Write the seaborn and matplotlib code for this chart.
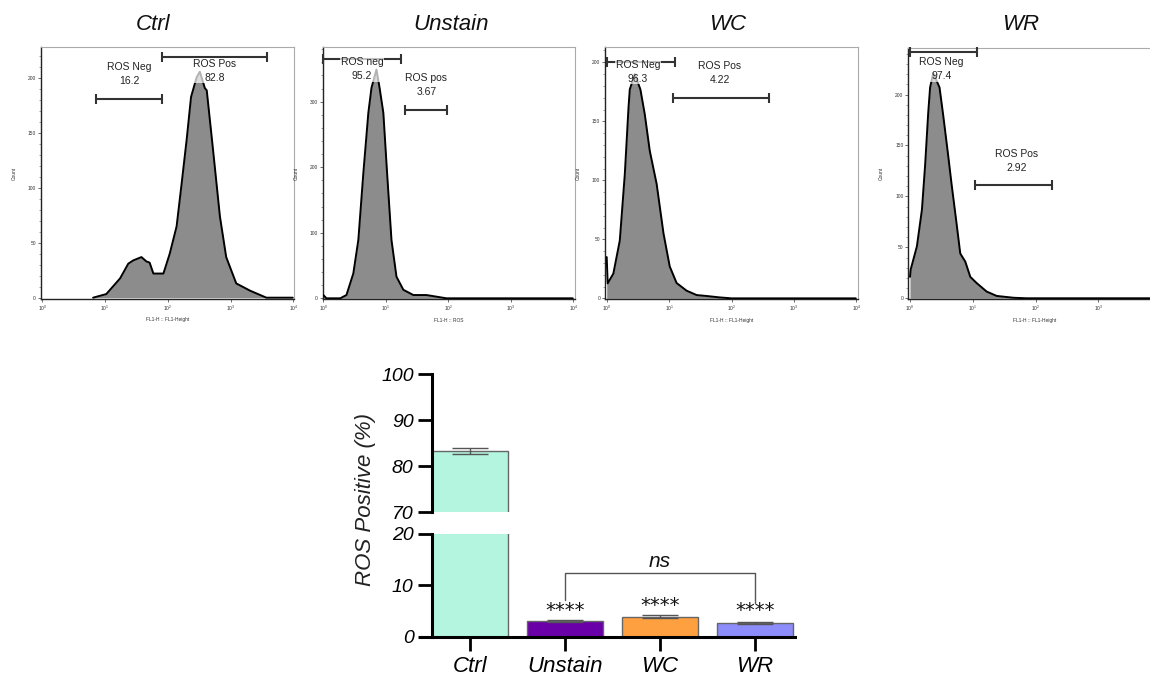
import numpy as np
import pandas as pd
import matplotlib
matplotlib.use("Agg")
import matplotlib.pyplot as plt
import seaborn as sns
from matplotlib.ticker import FixedLocator, NullFormatter, AutoMinorLocator

sns.set_theme(style="white")
plt.rcParams['font.family'] = ['Liberation Sans', 'DejaVu Sans']
plt.rcParams['mathtext.fontset'] = 'custom'
plt.rcParams['mathtext.rm'] = 'Liberation Sans'

# ---------------- Flow histogram data (log10 intensity, count) ----------------
titles = ["Ctrl", "Unstain", "WC", "WR"]
xlabels = ["FL1-H :: FL1-Height", "FL1-H :: ROS", "FL1-H :: FL1-Height", "FL1-H :: FL1-Height"]

ctrl_dec = [0.81, 1.02, 1.24, 1.37, 1.45, 1.58, 1.66, 1.71, 1.77, 1.93, 2.03, 2.14, 2.22,
            2.30, 2.37, 2.46, 2.51, 2.59, 2.62, 2.72, 2.83, 2.93, 3.09, 3.31, 3.57, 3.99]
ctrl_cnt = [0, 3.3, 17.6, 31, 34, 37, 33, 32, 22, 22, 40, 65, 104,
            144, 183, 201, 206, 191, 189, 135, 74, 37, 13, 6.4, 0, 0]

unst_dec = [0.0, 0.05, 0.27, 0.37, 0.48, 0.56, 0.64, 0.72, 0.77, 0.85, 0.90, 0.96, 1.02,
            1.09, 1.17, 1.28, 1.44, 1.65, 1.81, 1.97, 3.99]
unst_cnt = [5, 0, 0, 5, 38, 89, 191, 283, 321, 349, 321, 283, 191,
            89, 33, 13, 5, 5, 2.5, 0, 0]

wc_dec = [0.0, 0.016, 0.107, 0.21, 0.29, 0.35, 0.37, 0.45, 0.54, 0.61, 0.69, 0.80, 0.91,
          1.01, 1.12, 1.28, 1.44, 1.60, 1.81, 2.0, 3.99]
wc_cnt = [35, 12.7, 21, 49, 105, 162, 177, 190, 177, 156, 125, 97, 55,
          27, 13, 6.5, 2.8, 2, 0.8, 0, 0]

wr_dec = [0.0, 0.01, 0.11, 0.19, 0.24, 0.29, 0.32, 0.37, 0.47, 0.53, 0.61, 0.66, 0.74,
          0.80, 0.88, 0.96, 1.06, 1.22, 1.38, 1.65, 1.86, 3.99]
wr_cnt = [21, 28, 51, 87, 130, 182, 207, 221, 207, 179, 139, 113, 74,
          44, 36, 21, 15, 6.6, 2.3, 0.5, 0, 0]

hist_dec = [ctrl_dec, unst_dec, wc_dec, wr_dec]
hist_cnt = [ctrl_cnt, unst_cnt, wc_cnt, wr_cnt]

# gates: (start decade, end decade, height)
neg_gates = [(0.85, 1.90, 181), (0.0, 1.25, 365), (0.0, 1.09, 200), (0.0, 1.06, 242)]
pos_gates = [(1.91, 3.58, 219), (1.31, 1.98, 288), (1.06, 2.60, 170), (1.04, 2.26, 111)]
neg_names = ["ROS Neg", "ROS neg", "ROS Neg", "ROS Neg"]
pos_names = ["ROS Pos", "ROS pos", "ROS Pos", "ROS Pos"]
neg_pct = ["16.2", "95.2", "96.3", "97.4"]
pos_pct = ["82.8", "3.67", "4.22", "2.92"]
neg_lab_pos = [(1.38, 204), (0.62, 350), (0.50, 192), (0.50, 225)]
pos_lab_pos = [(2.75, 207), (1.65, 326), (1.81, 191), (1.70, 135)]

y_major = [[0, 50, 100, 150, 200], [0, 100, 200, 300], [0, 50, 100, 150, 200], [0, 50, 100, 150, 200]]
x_decades = [[0, 1, 2, 3, 4], [0, 1, 2, 3, 4], [0, 1, 2, 3, 4], [0, 1, 2, 3]]

# ---------------- Bar chart data ----------------
groups = ["Ctrl", "Unstain", "WC", "WR"]
ros_pos = [83.3, 3.04, 3.9, 2.67]
ros_sem = [0.65, 0.15, 0.25, 0.2]
bar_colors = ["#B3F5DE", "#6A00A8", "#FFA040", "#8C8CFA"]
star_y = [5.1, 6.0, 5.1]
ns_bracket = (1, 3, 12.35, 7.1, 6.6)

W, H = 1150, 677
fig = plt.figure(figsize=(W / 100, H / 100), dpi=100)

def frac(l, t, r, b):
    return [l / W, 1 - b / H, (r - l) / W, (b - t) / H]

# pixel boxes & limits for histograms
hist_boxes = [(40.7, 47, 294, 299), (322.7, 47.3, 575.3, 299.3), (605, 47.3, 858.3, 299.3), (908.3, 47.7, 1161.3, 299.3)]
xlims = [(-0.025, 4.01), (-0.01, 4.03), (-0.027, 4.03), (-0.027, 4.0)]
ylims = [(-1.2, 228.5), (-1.5, 383), (-0.8, 212.7), (-1.0, 246)]
title_x = [153, 451, 728, 1021]

for i in range(4):
    ax = fig.add_axes(frac(*hist_boxes[i]))
    ax.set_xscale('log')
    df = pd.DataFrame({"FL1": 10 ** np.array(hist_dec[i], dtype=float), "Count": hist_cnt[i]})
    ax.fill_between(df["FL1"], 0, df["Count"], color="#8c8c8c", lw=0, zorder=2)
    sns.lineplot(data=df, x="FL1", y="Count", ax=ax, color="black", lw=1.4, zorder=3)
    ax.set_xlim(10 ** xlims[i][0], 10 ** xlims[i][1])
    ax.set_ylim(*ylims[i])
    ax.xaxis.set_major_locator(FixedLocator([10.0 ** d for d in x_decades[i]]))
    ax.set_xticklabels([rf"$10^{d}$" for d in x_decades[i]])
    ax.xaxis.set_minor_formatter(NullFormatter())
    ax.xaxis.set_minor_locator(FixedLocator([]))
    ax.yaxis.set_major_locator(FixedLocator(y_major[i]))
    ax.yaxis.set_minor_locator(AutoMinorLocator(5))
    ax.tick_params(axis='both', which='major', labelsize=3.5, length=2, width=0.5, colors='#333',
                   pad=1.5, bottom=True, left=True)
    ax.tick_params(axis='y', which='minor', length=1.2, width=0.4, colors='#555', left=True)
    ax.set_xlabel(xlabels[i], fontsize=3.5, color='#333', labelpad=3)
    ax.set_ylabel("Count", fontsize=3.5, color='#333', labelpad=8)
    for s in ['left', 'bottom']:
        ax.spines[s].set_color('#222')
        ax.spines[s].set_linewidth(1.0)
    for s in ['top', 'right']:
        ax.spines[s].set_color('#aaaaaa')
        ax.spines[s].set_linewidth(0.8)
    # gates
    for (a, b, h) in [neg_gates[i], pos_gates[i]]:
        ax.plot([10 ** a, 10 ** b], [h, h], color='#333', lw=1.5, zorder=4,
                marker='|', markersize=7, markeredgewidth=1.5, clip_on=False)
    bb = dict(facecolor='white', alpha=0.7, edgecolor='none', pad=0.5)
    nx, ny = neg_lab_pos[i]
    ax.text(10 ** nx, ny, f"{neg_names[i]}\n{neg_pct[i]}", ha='center', va='center', fontsize=7.5,
            color='#222', linespacing=1.5, bbox=bb, zorder=5)
    px, py = pos_lab_pos[i]
    ax.text(10 ** px, py, f"{pos_names[i]}\n{pos_pct[i]}", ha='center', va='center', fontsize=7.5,
            color='#222', linespacing=1.5, bbox=bb, zorder=5)
    fig.text(title_x[i] / W, 1 - 24 / H, titles[i], ha='center', va='center', fontsize=16,
             style='italic', color='#111')

# ---------------- Broken-axis bar chart ----------------
ax_top = fig.add_axes(frac(420, 374, 795, 512))
ax_bot = fig.add_axes(frac(420, 534, 795, 636.7))
bdf = pd.DataFrame({"Group": groups, "ROS": ros_pos})
left_x = (431.7 - 470) / 95.0
xl = (-50 / 95.0, 325 / 95.0)

for ax, lim, ticks in [(ax_top, (70, 100), [70, 80, 90, 100]), (ax_bot, (0, 20), [0, 10, 20])]:
    sns.barplot(data=bdf, x="Group", y="ROS", hue="Group", palette=bar_colors, legend=False,
                saturation=1, width=0.79, edgecolor='#666', linewidth=1.0, ax=ax, zorder=2)
    ax.errorbar(range(len(groups)), ros_pos, yerr=ros_sem, fmt='none', ecolor='#555',
                elinewidth=1.0, capsize=13, capthick=1.0, zorder=3)
    ax.set_xlim(*xl)
    ax.set_ylim(*lim)
    ax.set_yticks(ticks)
    ax.set_xlabel("")
    ax.set_ylabel("")
    ax.spines['left'].set_position(('data', left_x))
    ax.spines['left'].set_linewidth(2.2)
    ax.spines['left'].set_color('black')
    ax.spines['top'].set_visible(False)
    ax.spines['right'].set_visible(False)
    ax.tick_params(axis='y', left=True, length=10, width=2.0, labelsize=14, pad=3, colors='black')
    for lab in ax.get_yticklabels():
        lab.set_fontstyle('italic')
    ax.patch.set_alpha(0)

ax_top.spines['bottom'].set_visible(False)
ax_top.tick_params(axis='x', bottom=False, labelbottom=False)
ax_bot.spines['bottom'].set_linewidth(2.2)
ax_bot.spines['bottom'].set_color('black')
ax_bot.tick_params(axis='x', bottom=True, length=10, width=2.0, labelsize=16, pad=4, colors='black')
for lab in ax_bot.get_xticklabels():
    lab.set_fontstyle('italic')

for xi, sy in zip([1, 2, 3], star_y):
    ax_bot.text(xi, sy, "****", ha='center', va='center', fontsize=14, color='#111',
                family='DejaVu Sans')
x1, x2, yb, l1, l2 = ns_bracket
ax_bot.plot([x1, x1, x2, x2], [l1, yb, yb, l2], color='#555', lw=1.0, zorder=4)
ax_bot.text((x1 + x2) / 2, yb + 0.5, "ns", ha='center', va='bottom', fontsize=15,
            style='italic', color='#111')

fig.text(366 / W, 1 - 500 / H, "ROS Positive (%)", rotation=90, ha='center', va='center',
         fontsize=16, style='italic', color='#222')

fig.savefig("out.png", dpi=100)
